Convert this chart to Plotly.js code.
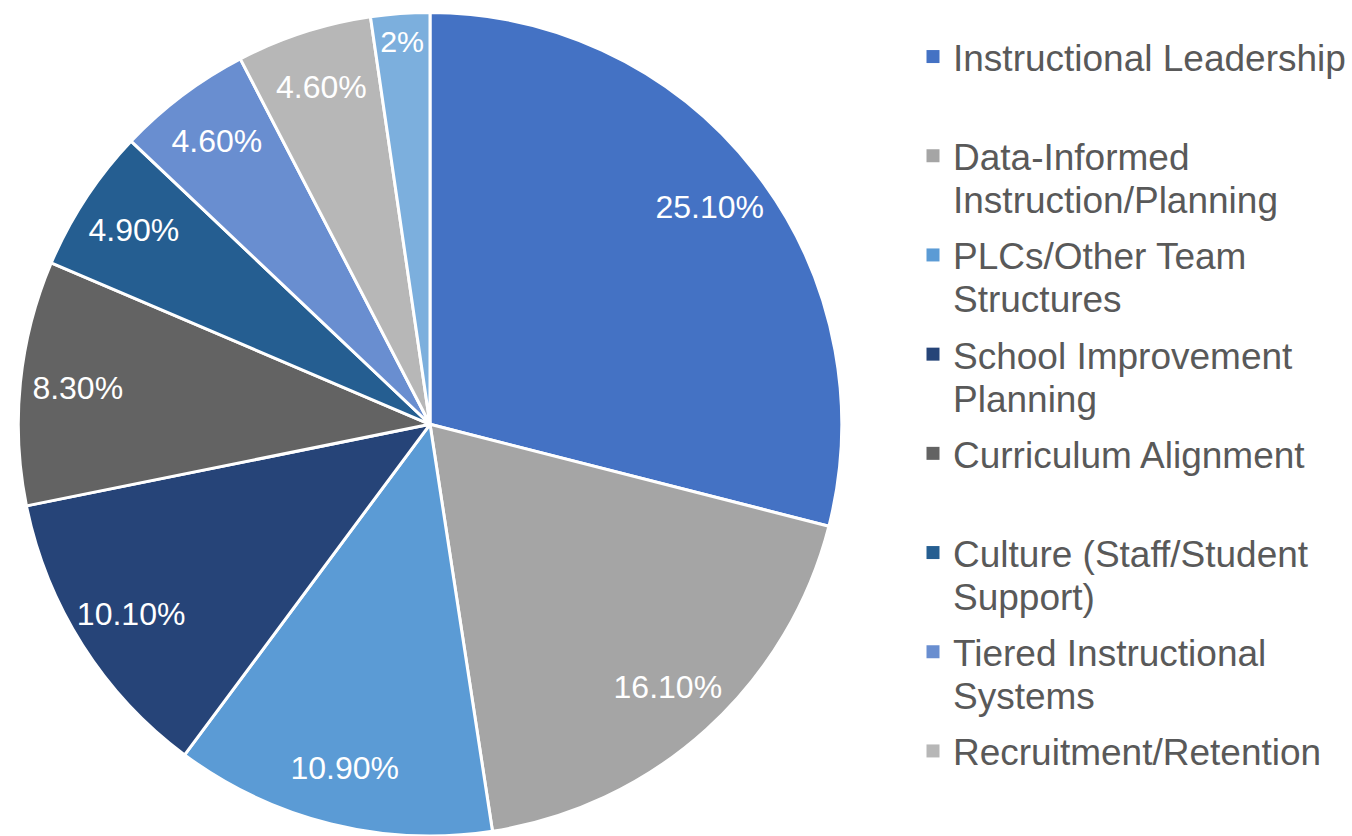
<!DOCTYPE html>
<html>
<head>
<meta charset="utf-8">
<script src="https://cdn.plot.ly/plotly-3.0.1.min.js"></script>
<style>
html,body{margin:0;padding:0;background:#fff;}
#chart{width:1352px;height:836px;}
</style>
</head>
<body>
<div id="chart"></div>
<script>
// Data
var categories = [
  "Instructional Leadership",
  "Data-Informed Instruction/Planning",
  "PLCs/Other Team Structures",
  "School Improvement Planning",
  "Curriculum Alignment",
  "Culture (Staff/Student Support)",
  "Tiered Instructional Systems",
  "Recruitment/Retention",
  "Other"
];
var values = [25.1, 16.1, 10.9, 10.1, 8.3, 4.9, 4.6, 4.6, 2];
var valueLabels = ["25.10%", "16.10%", "10.90%", "10.10%", "8.30%", "4.90%", "4.60%", "4.60%", "2%"];
// legend labels as wrapped in the reference (the last slice is not shown in the legend)
var legendLabels = [
  "Instructional Leadership",
  "Data-Informed<br>Instruction/Planning",
  "PLCs/Other Team<br>Structures",
  "School Improvement<br>Planning",
  "Curriculum Alignment",
  "Culture (Staff/Student<br>Support)",
  "Tiered Instructional<br>Systems",
  "Recruitment/Retention"
];
var colors = ["#4472C4", "#A5A5A5", "#5B9BD5", "#264478", "#636363", "#255E91", "#698ED0", "#B7B7B7", "#7CAFDD"];

var font = "Liberation Sans, Arial, sans-serif";
var domain = {x: [18/1352, 842/1352], y: [0, 0.985]};

var traces = [];
// main pie: slices and borders
traces.push({
  type: "pie",
  labels: categories,
  values: values,
  sort: false,
  direction: "clockwise",
  rotation: 0,
  domain: domain,
  marker: {colors: colors, line: {color: "#ffffff", width: 3}},
  textinfo: "none",
  showlegend: false,
  hoverinfo: "label+percent"
});
// transparent overlay ring that only carries the data labels near the outer edge
traces.push({
  type: "pie",
  labels: categories,
  values: values,
  sort: false,
  direction: "clockwise",
  rotation: 0,
  hole: 0.72,
  domain: domain,
  marker: {colors: colors.map(function(){return "rgba(0,0,0,0)";}), line: {width: 0}},
  text: valueLabels,
  textinfo: "text",
  textposition: "inside",
  insidetextorientation: "horizontal",
  insidetextfont: {color: "#ffffff", size: 32, family: font},
  showlegend: false,
  hoverinfo: "skip"
});
// legend entries
for (var i = 0; i < legendLabels.length; i++) {
  var lbl = legendLabels[i];
  if (lbl.indexOf("<br>") < 0) lbl = lbl + "<br>&nbsp;";
  traces.push({
    type: "scatter",
    mode: "markers",
    x: [null], y: [null],
    name: lbl,
    marker: {symbol: "square", size: 13, color: colors[i]},
    showlegend: true,
    hoverinfo: "skip"
  });
}

var layout = {
  width: 1352,
  height: 836,
  margin: {l: 0, r: 0, t: 0, b: 0},
  paper_bgcolor: "#ffffff",
  plot_bgcolor: "#ffffff",
  font: {family: font, color: "#595959"},
  xaxis: {visible: false},
  yaxis: {visible: false},
  showlegend: true,
  legend: {
    x: 913/1352, xanchor: "left",
    y: 1 - 26/836, yanchor: "top",
    valign: "top",
    font: {size: 37, color: "#595959", family: font},
    bgcolor: "rgba(0,0,0,0)",
    itemclick: false, itemdoubleclick: false
  }
};

Plotly.newPlot("chart", traces, layout, {displayModeBar: false, staticPlot: true}).then(function(gd) {
  // tighter line spacing inside wrapped legend entries, as in the reference
  var tspans = gd.querySelectorAll(".legend .legendtext tspan.line");
  tspans.forEach(function(t) {
    var dy = parseFloat(t.getAttribute("dy"));
    if (dy) t.setAttribute("dy", (dy / 1.3 * 1.162) + "em");
  });
});
</script>
</body>
</html>
